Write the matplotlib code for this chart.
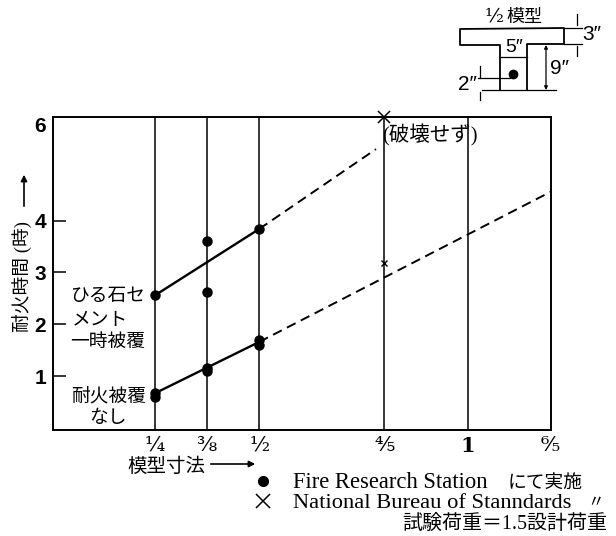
import matplotlib
matplotlib.use("Agg")
import matplotlib.pyplot as plt

W, H = 616, 536
plt.rcParams['font.family'] = ['Liberation Serif', 'Noto Sans CJK JP', 'DejaVu Sans']

# ---- data ----
size_ticks = [0.25, 0.375, 0.5, 0.8, 1.0, 1.2]
size_labels = ['¼', '⅜', '½', '⅘', '1', '⁶⁄₅']
hour_ticks = [1, 2, 3, 4, 6]

frs_x = [0.25, 0.25, 0.25, 0.375, 0.375, 0.375, 0.375, 0.5, 0.5, 0.5]
frs_y = [2.56, 0.67, 0.59, 3.61, 2.63, 1.15, 1.09, 3.84, 1.70, 1.60]
nbs_x = [0.8, 0.8]
nbs_y = [6.0, 3.19]

upper_solid_x = [0.25, 0.5]
upper_solid_y = [2.56, 3.84]
upper_dash_x = [0.5, 0.78]
upper_dash_y = [3.84, 5.38]
lower_solid_x = [0.25, 0.5]
lower_solid_y = [0.67, 1.66]
lower_dash_x = [0.5, 1.2]
lower_dash_y = [1.66, 4.56]

fig = plt.figure(figsize=(W / 100, H / 100), dpi=100)

# main axes, placed by pixel box
left, right, top, bottom = 53, 551, 117, 430
ax = fig.add_axes([left / W, 1 - bottom / H, (right - left) / W, (bottom - top) / H])
ax.set_xlim(0.005, 1.2)
ax.set_ylim(-0.04, 6.0)
for s in ax.spines.values():
    s.set_linewidth(1.4)

for x in size_ticks[:-1]:
    ax.axvline(x, color='black', lw=1.1, zorder=1)

ax.plot(upper_solid_x, upper_solid_y, color='black', lw=1.7)
ax.plot(lower_solid_x, lower_solid_y, color='black', lw=1.7)
ax.plot(upper_dash_x, upper_dash_y, color='black', lw=1.4, dashes=(5, 3))
ax.plot(lower_dash_x, lower_dash_y, color='black', lw=1.4, dashes=(5, 3))
ax.plot(frs_x, frs_y, 'o', color='black', ms=6.5, zorder=3)
ax.plot(nbs_x[0], nbs_y[0], 'x', color='black', ms=9, mew=1.1, clip_on=False, zorder=3)
ax.plot(nbs_x[1], nbs_y[1], 'x', color='black', ms=5, mew=1, zorder=3)

ax.set_xticks(size_ticks)
ax.set_xticklabels(size_labels, fontsize=15, family=['DejaVu Serif'])
ax.get_xticklabels()[4].set_fontsize(15)
ax.get_xticklabels()[4].set_fontweight('bold')
ax.set_yticks(hour_ticks)
ax.set_yticklabels([str(v) for v in hour_ticks], fontsize=15, family=['Liberation Sans'], fontweight='bold')
ax.get_yticklabels()[-1].set_va('top')
ax.tick_params(axis='x', length=0, pad=4)
ax.tick_params(axis='y', direction='in', length=9.5, width=1.1, pad=5)
ax.yaxis.get_major_ticks()[-1].tick1line.set_visible(False)

# overlay in pixel coordinates for the notes, legend and beam sketch
ov = fig.add_axes([0, 0, 1, 1], facecolor='none')
ov.set_xlim(0, W)
ov.set_ylim(H, 0)
ov.axis('off')


def note(x, y, s, size=13.5, ha='left', **kw):
    ov.text(x, y, s, fontsize=size, ha=ha, va='center', **kw)


note(71, 297, 'ひる石セ')
note(72, 320, 'メント')
note(70, 342, '一時被覆')
note(71, 397, '耐火被覆')
note(108, 418, 'なし', ha='center')
note(382, 135, '(破壊せず)', size=14.8)

# axis titles with arrows
note(22, 277, '耐火時間 (時)', size=13.5, ha='center', rotation=90)
ov.annotate('', xy=(24, 172), xytext=(24, 209),
            arrowprops=dict(arrowstyle='-|>', color='black', lw=1.2, mutation_scale=9))
note(127, 467, '模型寸法', size=14)
ov.annotate('', xy=(258, 464), xytext=(208, 464),
            arrowprops=dict(arrowstyle='-|>', color='black', lw=1.2, mutation_scale=9))

# legend
ov.plot([263], [481], 'o', color='black', ms=7)
ov.plot([263], [501], 'x', color='black', ms=10, mew=1.1)
note(293, 483, 'Fire Research Station', size=16.3)
note(508, 483, 'にて実施', size=13.5)
note(293, 503, 'National Bureau of Stanndards', size=16.2)
note(596, 503, '〃', size=12, ha='center')
note(607, 524, '試験荷重＝1.5設計荷重', size=14.4, ha='right')

# T-beam sketch
beam_outline = [(500, 90), (500, 45), (460, 45), (460, 29), (564, 28), (564, 44), (527, 44), (527, 90)]
ov.plot(*zip(*beam_outline), color='black', lw=1.3)
thin_lines = [
    [(482, 90), (556, 90)], [(500, 57), (527, 57)], [(478, 78), (510, 78)],
    [(564, 28), (582, 28)], [(564, 44), (582, 44)],
    [(577, 14), (577, 25)], [(577, 46), (577, 56)],
    [(480, 66), (480, 78)], [(480, 92), (480, 100)],
]
for seg in thin_lines:
    ov.plot(*zip(*seg), color='black', lw=0.9)
ov.annotate('', xy=(546, 45), xytext=(546, 90),
            arrowprops=dict(arrowstyle='<|-|>', color='black', lw=0.9, mutation_scale=5, shrinkA=0, shrinkB=0))
ov.plot([513], [74], 'o', color='black', ms=6)
note(485, 17, '½', size=14, family=['DejaVu Serif'])
note(506, 17, '模型', size=13)
note(505, 48, '5″', size=14, family=['Liberation Sans'])
note(582, 35, '3″', size=15, family=['Liberation Sans'])
note(550, 68, '9″', size=15, family=['Liberation Sans'])
note(458, 85, '2″', size=15, family=['Liberation Sans'])

fig.savefig('out.png', dpi=100)
